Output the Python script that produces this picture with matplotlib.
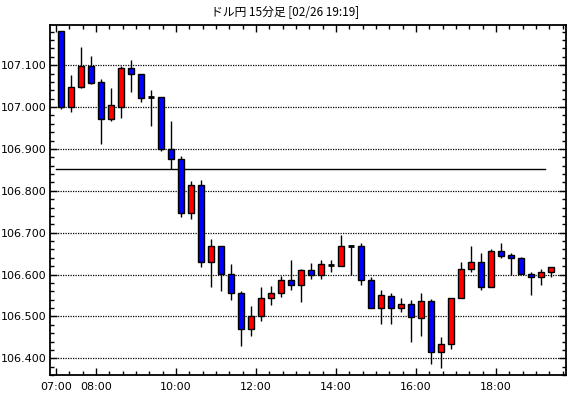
import matplotlib
matplotlib.use("Agg")
import matplotlib.pyplot as plt
from matplotlib.patches import Rectangle
from matplotlib.ticker import MultipleLocator, FixedLocator, FixedFormatter

plt.rcParams['font.family'] = ['Noto Sans CJK JP', 'DejaVu Sans']

title = "ドル円 15分足 [02/26 19:19]"
start_hour = 7.0
interval_min = 15

opens  = [107.181, 107.001, 107.049, 107.099, 107.059, 106.971, 107.001, 107.094, 107.080, 107.023,
          107.023, 106.900, 106.876, 106.748, 106.814, 106.629, 106.667, 106.602, 106.557, 106.471,
          106.500, 106.545, 106.555, 106.588, 106.574, 106.610, 106.600, 106.623, 106.621, 106.668,
          106.669, 106.588, 106.519, 106.548, 106.519, 106.529, 106.495, 106.536, 106.414, 106.433,
          106.543, 106.612, 106.629, 106.571, 106.657, 106.646, 106.640, 106.602, 106.595, 106.605]
highs  = [107.181, 107.076, 107.143, 107.122, 107.066, 107.045, 107.098, 107.112, 107.080, 107.041,
          107.023, 106.966, 106.883, 106.824, 106.826, 106.684, 106.667, 106.624, 106.560, 106.525,
          106.571, 106.573, 106.597, 106.635, 106.614, 106.627, 106.634, 106.634, 106.694, 106.670,
          106.676, 106.593, 106.562, 106.556, 106.545, 106.538, 106.556, 106.541, 106.451, 106.543,
          106.629, 106.668, 106.651, 106.660, 106.675, 106.652, 106.643, 106.605, 106.613, 106.619]
lows   = [106.995, 106.989, 107.045, 107.054, 106.912, 106.967, 106.975, 107.037, 107.013, 106.955,
          106.896, 106.852, 106.737, 106.733, 106.617, 106.571, 106.561, 106.540, 106.429, 106.452,
          106.490, 106.528, 106.547, 106.562, 106.535, 106.590, 106.590, 106.606, 106.621, 106.598,
          106.574, 106.519, 106.483, 106.483, 106.511, 106.440, 106.454, 106.386, 106.376, 106.421,
          106.543, 106.605, 106.563, 106.571, 106.640, 106.600, 106.602, 106.552, 106.576, 106.593]
closes = [107.000, 107.049, 107.099, 107.057, 106.971, 107.004, 107.094, 107.080, 107.021, 107.023,
          106.900, 106.876, 106.748, 106.814, 106.629, 106.668, 106.602, 106.557, 106.471, 106.500,
          106.545, 106.555, 106.588, 106.576, 106.610, 106.600, 106.624, 106.623, 106.667, 106.668,
          106.588, 106.519, 106.552, 106.519, 106.529, 106.498, 106.536, 106.414, 106.433, 106.543,
          106.612, 106.629, 106.571, 106.657, 106.645, 106.640, 106.602, 106.595, 106.605, 106.617]

ref_level = 106.852
ref_start, ref_end = 7.0, 19.225

x_tick_hours = [7, 8, 10, 12, 14, 16, 18]
x_tick_labels = ["07:00", "08:00", "10:00", "12:00", "14:00", "16:00", "18:00"]

fig = plt.figure(figsize=(5.70, 3.98), dpi=100)
ax = fig.add_axes([49.5/570, 1 - 375/398, 516/570, 350/398])

step = interval_min / 60.0
width = step * 0.6
for i, (o, h, l, c) in enumerate(zip(opens, highs, lows, closes)):
    xc = start_hour + i * step + step / 2
    ax.plot([xc, xc], [l, h], color='black', lw=1.0, zorder=2, solid_capstyle='butt')
    if abs(c - o) < 1e-9:
        ax.plot([xc - width/2, xc + width/2], [o, o], color='black', lw=2.0, zorder=3,
                solid_capstyle='butt')
    else:
        color = '#ff0000' if c > o else '#0000ff'
        ax.add_patch(Rectangle((xc - width/2, min(o, c)), width, abs(c - o),
                               facecolor=color, edgecolor='black', lw=1.0, zorder=3))

ax.plot([ref_start, ref_end], [ref_level, ref_level], color='black', lw=1.0, zorder=2)

ax.set_xlim(6.8375, 19.7375)
ax.set_ylim(106.360, 107.196)

ax.yaxis.set_major_locator(MultipleLocator(0.1))
ax.yaxis.set_minor_locator(MultipleLocator(0.02))
ax.yaxis.set_major_formatter(matplotlib.ticker.FormatStrFormatter('%.3f'))
ax.grid(axis='y', which='major', color='black', linestyle=(0, (1, 1)), lw=0.9, zorder=1)

ax.xaxis.set_major_locator(FixedLocator(x_tick_hours))
ax.xaxis.set_major_formatter(FixedFormatter(x_tick_labels))
ax.xaxis.set_minor_locator(MultipleLocator(1/3))

ax.tick_params(which='both', direction='in', top=True, right=True, labelsize=8, colors='black')
ax.tick_params(which='major', length=5, width=1)
ax.tick_params(which='minor', length=3, width=1)
ax.tick_params(axis='x', pad=5)
ax.tick_params(axis='y', pad=2)
for lab in ax.get_xticklabels() + ax.get_yticklabels():
    lab.set_family(['DejaVu Sans'])
for s in ax.spines.values():
    s.set_linewidth(1.3)

fig.text(285/570, 1 - 12/398, title, ha='center', va='center', fontsize=8.5)

fig.savefig("out.png", dpi=100)
